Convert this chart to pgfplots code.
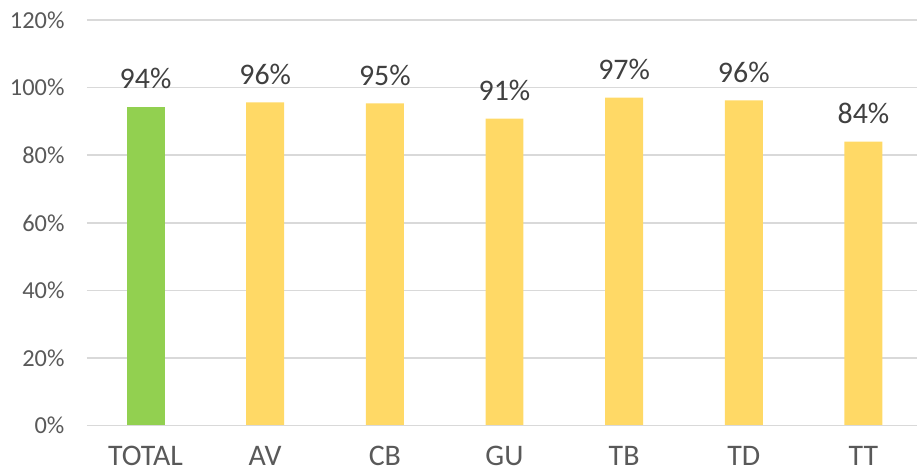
\documentclass[border=0pt]{standalone}
\usepackage{fontspec}
\setmainfont{Carlito}
\usepackage{pgfplots}
\pgfplotsset{compat=1.18}
\definecolor{barGreen}{HTML}{92D050}
\definecolor{barYellow}{HTML}{FFD966}
\definecolor{gridGray}{HTML}{D9D9D9}
\definecolor{tickText}{HTML}{595959}
\definecolor{labelText}{HTML}{404040}
\begin{document}
\begin{tikzpicture}
\begin{axis}[
  name=ax,
  scale only axis,
  width=831bp, height=406bp,
  ymin=0, ymax=120,
  xmin=-0.49, xmax=6.45,
  ytick={0,20,...,120},
  yticklabel={\pgfmathprintnumber{\tick}\%},
  /pgf/number format/assume math mode=true,
  xtick={0,...,6},
  xticklabels={TOTAL,AV,CB,GU,TB,TD,TT},
  ymajorgrids=true,
  grid style={gridGray, line width=1.5bp},
  axis line style={draw=none},
  major tick length=0pt,
  yticklabel style={font=\fontsize{24.5}{24.5}\selectfont, text=tickText, xshift=-19bp},
  xticklabel style={font=\fontsize{30}{30}\selectfont, text=tickText, yshift=-17bp},
  ybar, bar width=38bp, bar shift=0pt,
  nodes near coords={\pgfmathprintnumber[fixed,precision=0]{\pgfplotspointmeta}\%},
  every node near coord/.append style={font=\fontsize{30}{30}\selectfont, text=labelText, yshift=14bp},
]
\addplot[draw=none, fill=barGreen] coordinates {(0,94.4)};
\addplot[draw=none, fill=barYellow] coordinates {(1,95.6) (2,95.3) (3,90.8) (4,97.0) (5,96.2) (6,84.0)};
\draw[gridGray, line width=1.5bp] (axis cs:-0.49,0) -- (axis cs:6.45,0);
\end{axis}
\useasboundingbox ([shift={(-87bp,-48bp)}]ax.south west) rectangle ([shift={(0bp,20bp)}]ax.north east);
\end{tikzpicture}
\end{document}
